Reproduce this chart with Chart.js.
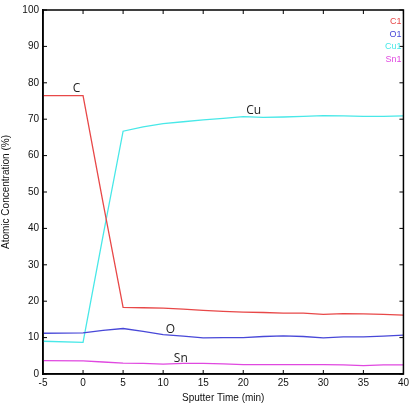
<!DOCTYPE html>
<html>
<head>
<meta charset="utf-8">
<title>Atomic Concentration depth profile</title>
<script src="https://cdn.jsdelivr.net/npm/chart.js@4/dist/chart.umd.min.js"></script>
<style>
    html, body { margin: 0; padding: 0; background: #fff; }
    #profile { display: block; }
</style>
</head>
<body>
<canvas id="profile" width="412" height="404"></canvas>
<script>
// sputter time (min) and atomic concentration (%) per element
const times  = [-5, 0, 2.5, 5, 7.5, 10, 12.5, 15, 17.5, 20, 22.5, 25, 27.5, 30, 32.5, 35, 37.5, 40];
const carbon = [76.5, 76.5, 47, 18.3, 18.2, 18.1, 17.8, 17.5, 17.2, 17.0, 16.9, 16.7, 16.7, 16.4, 16.6, 16.5, 16.4, 16.2];
const oxygen = [11.2, 11.3, 12.0, 12.5, 11.7, 10.8, 10.4, 9.9, 10.0, 10.0, 10.3, 10.5, 10.3, 9.9, 10.2, 10.2, 10.4, 10.7];
const copper = [9.0, 8.7, 38, 66.7, 67.9, 68.8, 69.3, 69.8, 70.2, 70.7, 70.5, 70.6, 70.8, 71.0, 70.9, 70.8, 70.8, 70.9];
const tin    = [3.7, 3.6, 3.3, 3.0, 2.9, 2.7, 2.9, 2.9, 2.8, 2.6, 2.6, 2.6, 2.6, 2.6, 2.5, 2.3, 2.5, 2.5];

const seriesNames  = ['C1', 'O1', 'Cu1', 'Sn1'];
const seriesColors = ['#e84848', '#4848d8', '#48e8e8', '#e048e0'];

// in-plot element labels: [text, x, y]
const peakLabels = [['C', -0.8, 77.2], ['Cu', 21.3, 71.2], ['O', 10.9, 11.2], ['Sn', 12.2, 3.1]];

const tickFont = { size: 10, family: '"Liberation Sans", Arial, sans-serif' };

function pts(ys) {
    return times.map((t, i) => ({ x: t, y: ys[i] }));
}

// top/right frame + inward ticks on all four sides, MATLAB style
const framePlugin = {
    id: 'frame',
    afterDraw(chart) {
        const { ctx, chartArea: a, scales } = chart;
        ctx.save();
        ctx.strokeStyle = '#000000';
        ctx.lineWidth = 1.5;
        ctx.beginPath();
        ctx.moveTo(a.left, a.top);
        ctx.lineTo(a.right, a.top);
        ctx.lineTo(a.right, a.bottom);
        ctx.lineTo(a.left, a.bottom);
        ctx.closePath();
        ctx.stroke();

        ctx.lineWidth = 1;
        ctx.beginPath();
        scales.x.ticks.forEach(t => {
            const px = scales.x.getPixelForValue(t.value);
            ctx.moveTo(px, a.bottom); ctx.lineTo(px, a.bottom - 4);
            ctx.moveTo(px, a.top); ctx.lineTo(px, a.top + 4);
        });
        scales.y.ticks.forEach(t => {
            const py = scales.y.getPixelForValue(t.value);
            ctx.moveTo(a.left, py); ctx.lineTo(a.left + 4, py);
            ctx.moveTo(a.right, py); ctx.lineTo(a.right - 4, py);
        });
        ctx.stroke();

        // element labels
        ctx.fillStyle = '#222';
        ctx.font = '12px "Open Sans", sans-serif';
        ctx.textAlign = 'center';
        ctx.textBaseline = 'bottom';
        peakLabels.forEach(([txt, x, y]) => {
            ctx.fillText(txt, scales.x.getPixelForValue(x), scales.y.getPixelForValue(y) + 2);
        });

        // legend, top right, text only
        ctx.font = '9px "Liberation Sans", sans-serif';
        ctx.textAlign = 'right';
        ctx.textBaseline = 'middle';
        seriesNames.forEach((n, i) => {
            ctx.fillStyle = seriesColors[i];
            ctx.fillText(n, a.right - 2, a.top + 12 + i * 12.5);
        });
        ctx.restore();
    }
};

new Chart(document.getElementById('profile'), {
    type: 'line',
    data: {
        datasets: [carbon, oxygen, copper, tin].map((ys, i) => ({
            label: seriesNames[i],
            data: pts(ys),
            borderColor: seriesColors[i],
            borderWidth: 1.3,
            pointRadius: 0,
            tension: 0,
            fill: false
        }))
    },
    options: {
        responsive: false,
        animation: false,
        layout: { padding: { top: 9, right: 6, left: 0, bottom: 0 } },
        plugins: { legend: { display: false }, tooltip: { enabled: false } },
        scales: {
            x: {
                type: 'linear',
                min: -5, max: 40,
                grid: { drawOnChartArea: false, drawTicks: false },
                border: { display: true, color: '#000', width: 1.5 },
                ticks: { stepSize: 5, color: '#111', padding: 3, font: tickFont },
                title: { display: true, text: 'Sputter Time (min)', color: '#111', padding: 0, font: tickFont },
                afterFit(s) { s.height = 30; }
            },
            y: {
                min: 0, max: 100,
                grid: { drawOnChartArea: false, drawTicks: false },
                border: { display: true, color: '#000', width: 1.5 },
                ticks: { stepSize: 10, color: '#111', padding: 4, font: tickFont },
                title: { display: true, text: 'Atomic Concentration (%)', color: '#111', padding: 0, font: tickFont },
                afterFit(s) { s.width = 43; }
            }
        }
    },
    plugins: [framePlugin]
});
</script>
</body>
</html>
